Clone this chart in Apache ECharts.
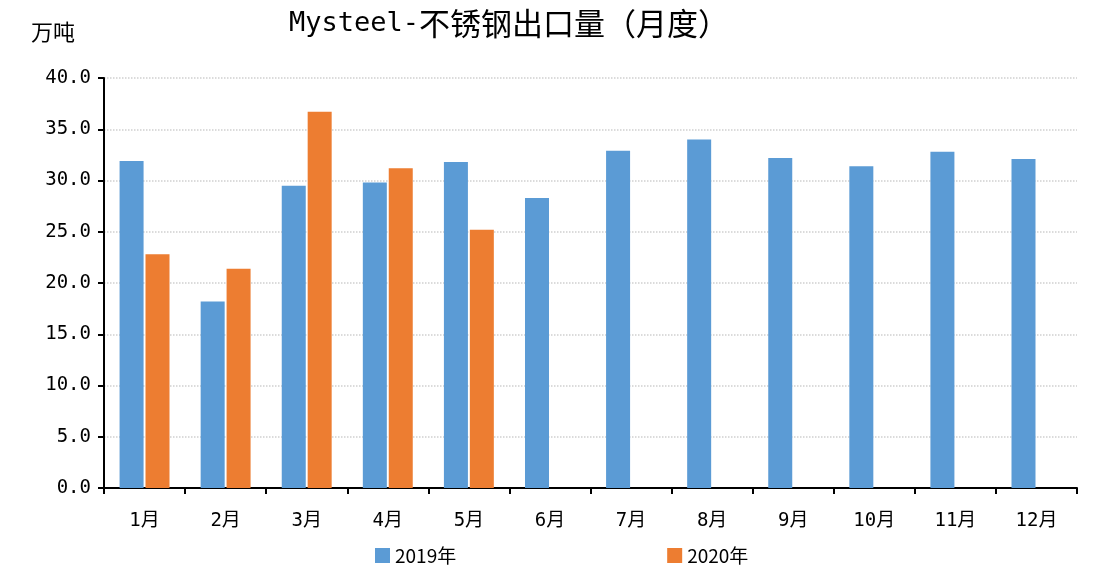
<!DOCTYPE html>
<html>
<head>
<meta charset="utf-8">
<script src="https://cdn.jsdelivr.net/npm/echarts@6/dist/echarts.min.js"></script>
<style>
  html, body { margin: 0; padding: 0; background: #fff; }
  #chart { width: 1099px; height: 570px; }
</style>
</head>
<body>
<div id="chart"></div>
<script>
var months = ['1月', '2月', '3月', '4月', '5月', '6月', '7月', '8月', '9月', '10月', '11月', '12月'];
var y2019 = [31.9, 18.2, 29.5, 29.8, 31.8, 28.3, 32.9, 34.0, 32.2, 31.4, 32.8, 32.1];
var y2020 = [22.8, 21.4, 36.7, 31.2, 25.2, null, null, null, null, null, null, null];

var monoFont = '"DejaVu Sans Mono", "Noto Sans CJK SC", sans-serif';

var chart = echarts.init(document.getElementById('chart'));
chart.setOption({
    animation: false,
    title: [
        {
            text: '{a|Mysteel-}{b|不锈钢出口量（月度）}',
            left: 284,
            top: 3,
            textStyle: {
                fontWeight: 'normal',
                rich: {
                    a: { fontFamily: '"DejaVu Sans Mono", monospace', fontSize: 27, color: '#000', fontWeight: 'normal' },
                    b: { fontFamily: '"Noto Sans CJK SC", sans-serif', fontSize: 31, color: '#000', fontWeight: 'normal' }
                }
            }
        },
        {
            text: '万吨',
            left: 26,
            top: 16,
            textStyle: { fontFamily: '"Noto Sans CJK SC", serif', fontSize: 22, fontWeight: 'normal', color: '#000' }
        }
    ],
    legend: {
        bottom: 0,
        left: 370,
        itemGap: 211,
        itemWidth: 15,
        itemHeight: 15,
        icon: 'rect',
        textStyle: { fontFamily: '"Noto Sans CJK SC", sans-serif', fontSize: 19, color: '#000' },
        data: ['2019年', '2020年']
    },
    grid: { left: 104, right: 22, top: 78, bottom: 82 },
    xAxis: {
        type: 'category',
        data: months,
        axisLine: { lineStyle: { color: '#000', width: 2 } },
        axisTick: { show: true, length: 6, lineStyle: { color: '#000', width: 2 } },
        axisLabel: { fontFamily: monoFont, fontSize: 19, color: '#000', margin: 24 }
    },
    yAxis: {
        type: 'value',
        min: 0,
        max: 40,
        interval: 5,
        axisLine: { show: true, lineStyle: { color: '#000', width: 2 } },
        axisTick: { show: true, length: 6, lineStyle: { color: '#000', width: 2 } },
        axisLabel: {
            fontFamily: monoFont, fontSize: 19, color: '#000', margin: 13,
            formatter: function (v) { return v.toFixed(1); }
        },
        splitLine: { lineStyle: { color: '#d0d0d0', type: 'dotted', width: 1.5 } }
    },
    series: [
        {
            name: '2019年',
            type: 'bar',
            barWidth: 24,
            barGap: '8%',
            itemStyle: { color: '#5B9BD5' },
            data: y2019
        },
        {
            name: '2020年',
            type: 'bar',
            barWidth: 24,
            itemStyle: { color: '#ED7D31' },
            data: y2020
        }
    ]
});
</script>
</body>
</html>
